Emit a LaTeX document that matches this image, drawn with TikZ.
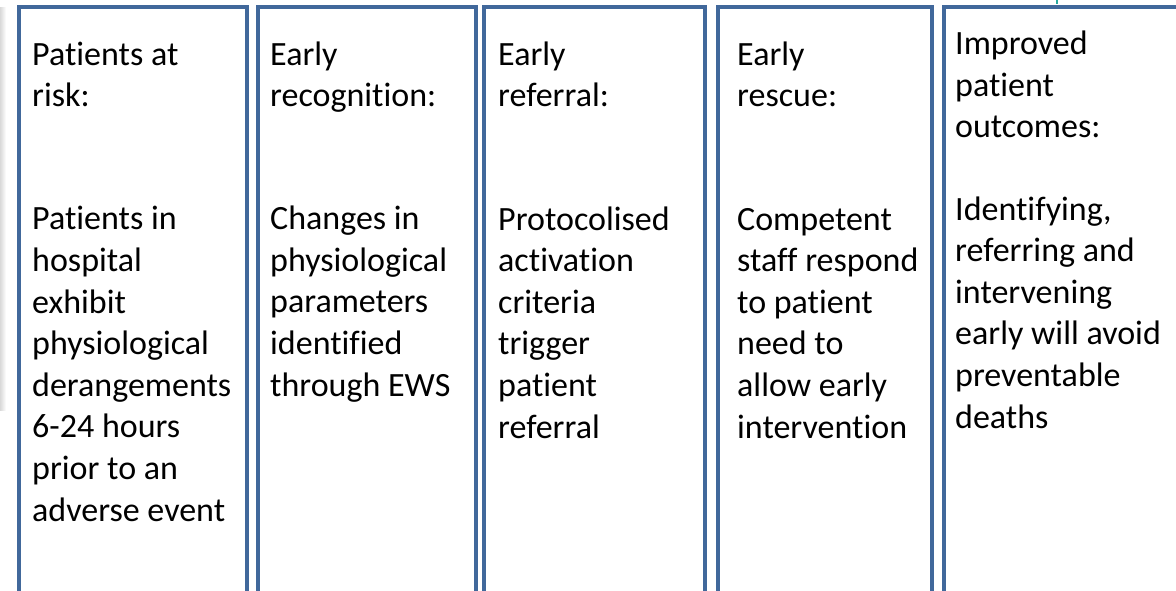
\documentclass[tikz,border=0pt]{standalone}
\usepackage{fontspec}
\setmainfont[Ligatures=NoCommon]{Carlito}
\definecolor{boxblue}{RGB}{65,104,155}
\definecolor{markteal}{RGB}{40,170,160}
\newcommand{\stagefont}{\fontsize{34}{41.6}\selectfont}
\tikzset{
  stage/.style={draw=boxblue, line width=3.6pt, anchor=north west, inner sep=0pt, minimum height=586pt},
  stagetext/.style={anchor=base west, align=left, inner sep=0pt, text=black}
}
\begin{document}
\begin{tikzpicture}[x=1pt,y=-1pt,every node/.style={font=\stagefont}]
\useasboundingbox (0,0) rectangle (1176,591);
% soft shadow down the left edge
\shade[left color=black!15, right color=white] (0,8) rectangle (6,410);
% the five stage boxes (left edge / right edge / name)
\foreach \l/\r/\n in {17/245/a,256/474/b,482/703/c,716/930/d,942/1200/e}
  \node[stage, minimum width={\r-\l}] (\n) at (\l,5) {};
\draw[markteal, line width=2pt] (1057,0) -- (1057,4);

% headings (placed on the baseline of their last line)
\node[stagetext] (a-head) at (32,107) {Patients at\\risk:};
\node[stagetext] (b-head) at (270,107) {Early\\recognition:};
\node[stagetext] (c-head) at (498,107) {Early\\referral:};
\node[stagetext] (d-head) at (737,107) {Early\\rescue:};
\node[stagetext] (e-head) at (955,138) {Improved\\patient\\outcomes:};

% descriptions
\node[stagetext] (a-body) at (32,521) {Patients in\\hospital\\exhibit\\physiological\\derangements\\6-24 hours\\prior to an\\adverse event};
\node[stagetext] (b-body) at (270,396) {Changes in\\physiological\\parameters\\identified\\through EWS};
\node[stagetext] (c-body) at (498,438) {Protocolised\\activation\\criteria\\trigger\\patient\\referral};
\node[stagetext] (d-body) at (737,438) {Competent\\staff respond\\to patient\\need to\\allow early\\intervention};
\node[stagetext] (e-body) at (955,428) {Identifying,\\referring and\\intervening\\early will avoid\\preventable\\deaths};
\end{tikzpicture}
\end{document}
